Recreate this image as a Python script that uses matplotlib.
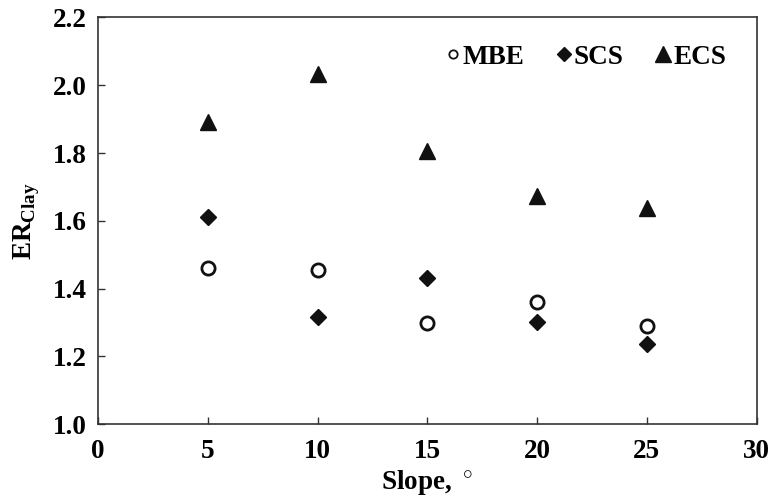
import matplotlib.pyplot as plt

slope = [5, 10, 15, 20, 25]
mbe = [1.461, 1.456, 1.298, 1.359, 1.290]
scs = [1.611, 1.317, 1.431, 1.300, 1.237]
ecs = [1.891, 2.033, 1.806, 1.672, 1.638]

plt.rcParams['font.family'] = 'Liberation Serif'
plt.rcParams['font.weight'] = 'bold'
plt.rcParams['mathtext.fontset'] = 'custom'
plt.rcParams['mathtext.rm'] = 'Liberation Serif:bold'
plt.rcParams['mathtext.bf'] = 'Liberation Serif:bold'

fig = plt.figure(figsize=(7.84, 4.99), dpi=100)
ax = fig.add_axes([0.125, 0.150, 0.840, 0.815])

ax.plot(slope, mbe, 'o', ms=9.5, mfc='white', mec='#111111', mew=2, label='MBE')
ax.plot(slope, scs, 'D', ms=8.5, color='#111111', label='SCS')
ax.plot(slope, ecs, '^', ms=12, color='#111111', label='ECS')

ax.set_xlim(0, 30)
ax.set_ylim(1.0, 2.2)
ax.set_xticks([0, 5, 10, 15, 20, 25, 30])
ax.set_yticks([1.0, 1.2, 1.4, 1.6, 1.8, 2.0, 2.2])
ax.set_yticklabels(['1.0', '1.2', '1.4', '1.6', '1.8', '2.0', '2.2'])
ax.tick_params(direction='in', length=5, width=1, labelsize=19.5, color='#333333')
ax.tick_params(axis='x', pad=11)
ax.tick_params(axis='y', pad=8)
for s in ax.spines.values():
    s.set_color('#333333')
    s.set_linewidth(1.2)

ax.set_xlabel('Slope, $^\\circ$', fontsize=19.5, fontweight='bold', labelpad=3)
ax.set_ylabel('ER$_{\\mathrm{Clay}}$', fontsize=19.5, fontweight='bold', labelpad=8)

leg = ax.legend(loc='upper right', bbox_to_anchor=(0.97, 0.96), ncol=3, frameon=False,
                fontsize=19.5, handlelength=0.7, handletextpad=0.02,
                columnspacing=1.1, borderaxespad=0)
hs = leg.legend_handles
hs[0].set_markersize(6)
hs[0].set_markeredgewidth(1.3)
hs[1].set_markersize(7.5)
hs[2].set_markersize(11)

fig.savefig('out.png', dpi=100)
